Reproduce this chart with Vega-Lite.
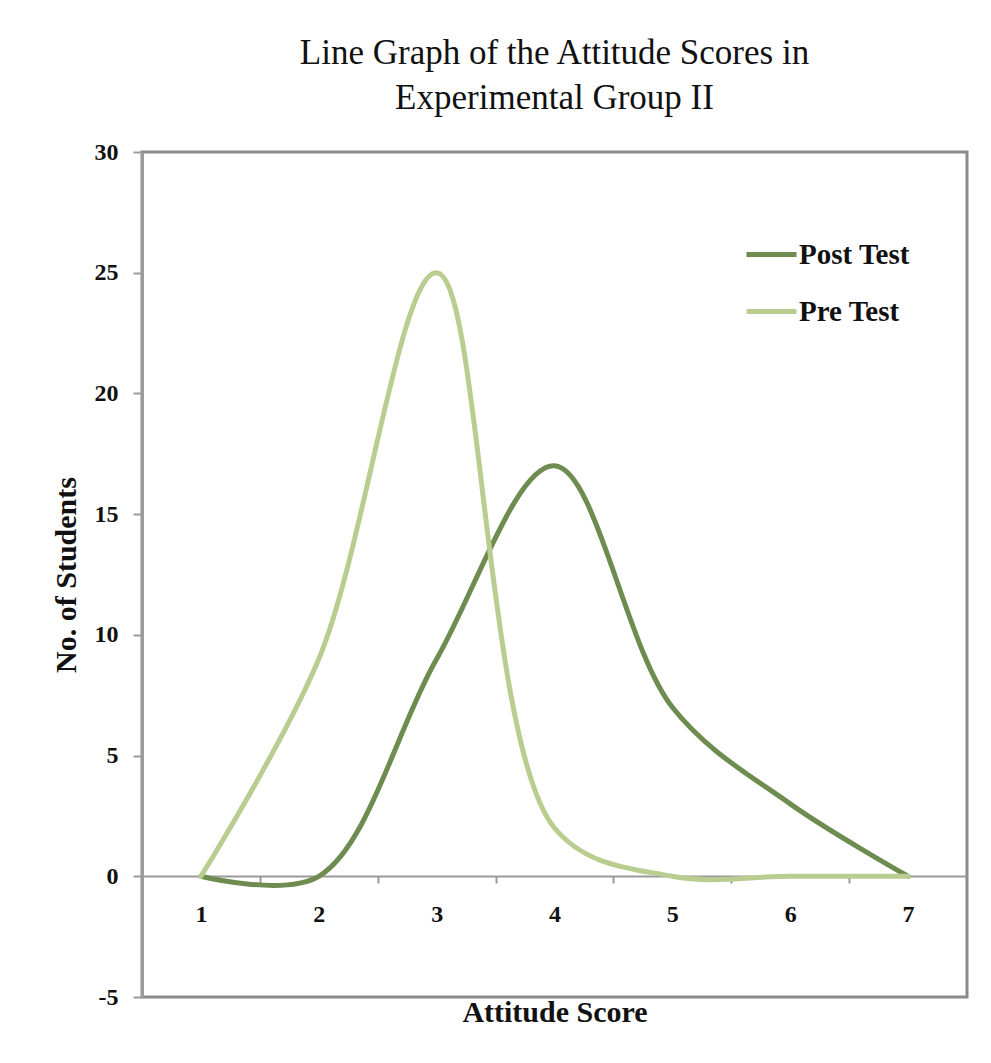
{
  "$schema": "https://vega.github.io/schema/vega-lite/v6.json",
  "width": 825,
  "height": 845,
  "autosize": "none",
  "padding": {"left": 142, "top": 152, "right": 24, "bottom": 66},
  "background": "white",
  "title": {
    "text": ["Line Graph of the Attitude Scores in", "Experimental Group II"],
    "font": "Liberation Serif",
    "fontSize": 35,
    "fontWeight": "normal",
    "lineHeight": 45,
    "offset": 24,
    "color": "#111111"
  },
  "data": {
    "values": [
      {"score": 1, "students": 0, "test": "Post Test"},
      {"score": 2, "students": 0, "test": "Post Test"},
      {"score": 3, "students": 9, "test": "Post Test"},
      {"score": 4, "students": 17, "test": "Post Test"},
      {"score": 5, "students": 7, "test": "Post Test"},
      {"score": 6, "students": 3, "test": "Post Test"},
      {"score": 7, "students": 0, "test": "Post Test"},
      {"score": 1, "students": 0, "test": "Pre Test"},
      {"score": 2, "students": 9, "test": "Pre Test"},
      {"score": 3, "students": 25, "test": "Pre Test"},
      {"score": 4, "students": 2, "test": "Pre Test"},
      {"score": 5, "students": 0, "test": "Pre Test"},
      {"score": 6, "students": 0, "test": "Pre Test"},
      {"score": 7, "students": 0, "test": "Pre Test"}
    ]
  },
  "mark": {"type": "line", "interpolate": "catmull-rom", "strokeWidth": 5, "strokeCap": "round", "strokeJoin": "round"},
  "encoding": {
    "x": {
      "field": "score",
      "type": "quantitative",
      "scale": {"domain": [0.5, 7.5], "nice": false, "zero": false},
      "axis": {
        "values": [1, 1.5, 2, 2.5, 3, 3.5, 4, 4.5, 5, 5.5, 6, 6.5, 7],
        "offset": -121,
        "grid": false,
        "domainColor": "#9a9a9a",
        "domainWidth": 2,
        "tickSize": 7,
        "tickWidth": 2,
        "tickColor": {"condition": {"test": "datum.value % 1 === 0", "value": "transparent"}, "value": "#9a9a9a"},
        "labelExpr": "datum.value % 1 === 0 ? toString(datum.value) : ''",
        "labelOverlap": false,
        "labelFlush": false,
        "labelPadding": 19,
        "labelFont": "Liberation Serif",
        "labelFontWeight": "bold",
        "labelFontSize": 24,
        "labelColor": "#111111",
        "title": "Attitude Score",
        "titleFont": "Liberation Serif",
        "titleFontWeight": "bold",
        "titleFontSize": 30,
        "titleColor": "#111111",
        "titlePadding": 71
      }
    },
    "y": {
      "field": "students",
      "type": "quantitative",
      "scale": {"domain": [-5, 30], "nice": false, "zero": false},
      "axis": {
        "values": [-5, 0, 5, 10, 15, 20, 25, 30],
        "labelExpr": "toString(datum.value)",
        "grid": false,
        "domainColor": "#9a9a9a",
        "domainWidth": 3,
        "tickSize": 9,
        "tickWidth": 2,
        "tickColor": "#9a9a9a",
        "labelPadding": 15,
        "labelFont": "Liberation Serif",
        "labelFontWeight": "bold",
        "labelFontSize": 24,
        "labelColor": "#111111",
        "title": "No. of Students",
        "titleFont": "Liberation Serif",
        "titleFontWeight": "bold",
        "titleFontSize": 30,
        "titleColor": "#111111",
        "titlePadding": 13
      }
    },
    "color": {
      "field": "test",
      "type": "nominal",
      "scale": {"domain": ["Post Test", "Pre Test"], "range": ["#6e8c50", "#b9cd91"]},
      "legend": {
        "orient": "none",
        "legendX": 602,
        "legendY": 75,
        "title": null,
        "symbolType": "stroke",
        "symbolSize": 2500,
        "symbolStrokeWidth": 5,
        "labelFont": "Liberation Serif",
        "labelFontWeight": "bold",
        "labelFontSize": 29,
        "labelColor": "#111111",
        "labelOffset": 0,
        "rowPadding": 14
      }
    }
  },
  "config": {
    "view": {"stroke": "#8a8a8a", "strokeWidth": 3}
  }
}
